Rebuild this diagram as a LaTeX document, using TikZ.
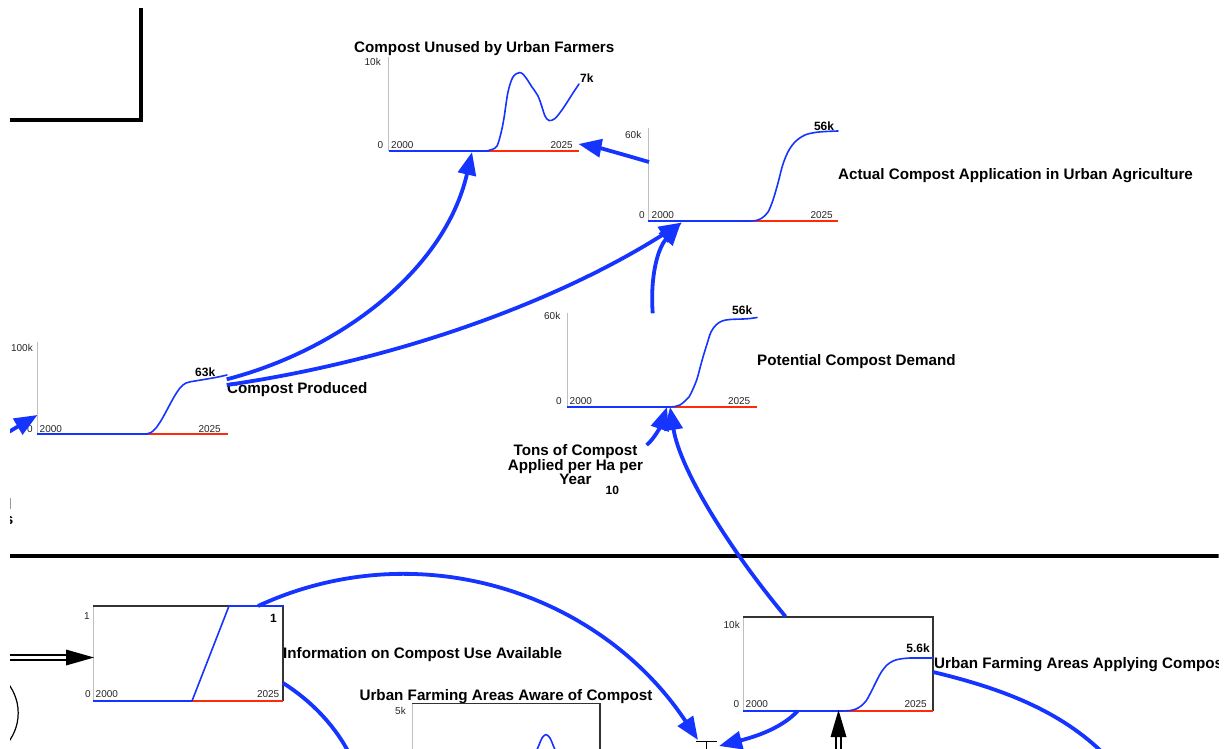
\documentclass[tikz,border=0pt]{standalone}
\usepackage{fontspec}
\setmainfont{Liberation Sans}
\usetikzlibrary{arrows.meta}
\definecolor{sblue}{RGB}{22,52,255}
\definecolor{sred}{RGB}{255,42,10}
\begin{document}
\begin{tikzpicture}[x=1pt,y=-1pt,
  ttl/.style={font=\bfseries\fontsize{15.2}{17}\selectfont, inner sep=0pt},
  axl/.style={font=\fontsize{10}{12}\selectfont, text=black!85, inner sep=0pt},
  val/.style={font=\bfseries\fontsize{12}{14}\selectfont, inner sep=0pt},
  yax/.style={draw=black!25, line width=1pt},
  bbase/.style={draw=sblue, line width=2.2pt},
  rbase/.style={draw=sred, line width=2.2pt},
  crv/.style={draw=sblue, line width=1.6pt, line join=round, line cap=round},
  conn/.style={draw=sblue, line width=3.8pt, -{Triangle[length=23pt,width=18pt]}},
  link/.style={draw=sblue, line width=3.8pt},
  frame/.style={draw=black!80, line width=1.1pt},
  wall/.style={draw=black, line width=3.5pt},
  pipe/.style={draw=black, line width=1.2pt, double=white, double distance=3.8pt},
]
\useasboundingbox (0,0) rectangle (1231,749);
\fill[white] (0,0) rectangle (1231,749);
\begin{scope}
\clip (10,8) rectangle (1218.5,749);

% walls
\draw[wall] (141,8) -- (141,120) -- (10,120);
\draw[wall] (10,556) -- (1219,556);

% ---------- Compost Unused by Urban Farmers
\draw[yax] (388.5,57) -- (388.5,151);
\draw[bbase] (388.5,151) -- (489,151);
\draw[rbase] (489,151) -- (579,151);
\draw[crv] plot[smooth, tension=0.55] coordinates {(486,151) (492,149.5) (497,146) (501,133) (504,118) (508,92) (513,77) (520,72.5) (525,76.5) (532,87) (538,96) (542,107) (545,116) (549,120.5) (555,118.5) (563,108.5) (573,93) (579,84)};
\node[ttl,anchor=base west] (cu-title) at (354,53) {Compost Unused by Urban Farmers};
\node[axl,anchor=base east] (cu-max) at (381,66) {10k};
\node[axl,anchor=base east] (cu-min) at (383.5,148.5) {0};
\node[axl,anchor=base west] (cu-t0) at (391,148.5) {2000};
\node[axl,anchor=base east] (cu-t1) at (573,148.5) {2025};
\node[val,anchor=base west] (cu-val) at (580,83) {7k};

% ---------- Actual Compost Application
\draw[yax] (648,128) -- (648,221);
\draw[bbase] (648,221) -- (750,221);
\draw[rbase] (750,221) -- (838,221);
\draw[crv] plot[smooth, tension=0.55] coordinates {(748,221) (756,220.5) (762,218) (768,212) (773,200) (778,183) (783,164) (789,150) (796,141) (805,135) (815,132.5) (826,131.5) (838,131)};
\node[axl,anchor=base east] (ac-max) at (641.5,138.5) {60k};
\node[axl,anchor=base east] (ac-min) at (645,218.5) {0};
\node[axl,anchor=base west] (ac-t0) at (651.5,218.5) {2000};
\node[axl,anchor=base east] (ac-t1) at (833,218.5) {2025};
\node[val,anchor=base] (ac-val) at (824,130.5) {56k};
\node[ttl,anchor=base west] (ac-title) at (838,179.5) {Actual Compost Application in Urban Agriculture};

% ---------- Compost Produced
\draw[yax] (37,342) -- (37,434);
\draw[bbase] (37,434) -- (148,434);
\draw[rbase] (148,434) -- (228,434);
\draw[crv] plot[smooth, tension=0.55] coordinates {(146,434) (151,432.5) (156,428) (162,419) (168,408) (174,397) (180,388) (186,383) (195,381) (207,379) (218,377) (227,375)};
\node[axl,anchor=base east] (cp-max) at (33,351.5) {100k};
\node[axl,anchor=base east] (cp-min) at (33,432.5) {0};
\node[axl,anchor=base west] (cp-t0) at (39.5,432.5) {2000};
\node[axl,anchor=base east] (cp-t1) at (221,432.5) {2025};
\node[val,anchor=base west] (cp-val) at (195,376.5) {63k};
\node[ttl,anchor=base west] (cp-title) at (227,393) {Compost Produced};

% ---------- Potential Compost Demand
\draw[yax] (567,313) -- (567,407);
\draw[bbase] (567,407) -- (669,407);
\draw[rbase] (669,407) -- (757,407);
\draw[crv] plot[smooth, tension=0.55] coordinates {(669,407) (675,406.5) (680,405) (685,401) (689,397) (693,389) (697,379) (700,368) (703,357) (707,344) (711,332) (716,325) (722,321) (730,319.5) (743,319) (750,318.5) (757,317.5)};
\node[axl,anchor=base east] (pd-max) at (560.5,319.5) {60k};
\node[axl,anchor=base east] (pd-min) at (562,404.5) {0};
\node[axl,anchor=base west] (pd-t0) at (569.5,404.5) {2000};
\node[axl,anchor=base east] (pd-t1) at (750.5,404.5) {2025};
\node[val,anchor=base west] (pd-val) at (732,314) {56k};
\node[ttl,anchor=base west] (pd-title) at (757,365.5) {Potential Compost Demand};

% ---------- Tons of Compost Applied per Ha per Year
\node[ttl,anchor=base] (tons1) at (575.5,455.5) {Tons of Compost};
\node[ttl,anchor=base] (tons2) at (575.5,470) {Applied per Ha per};
\node[ttl,anchor=base] (tons3) at (575.5,484.5) {Year};
\node[val,anchor=base west] (tons-val) at (605.5,494) {10};

% ---------- left edge fragments
\draw[draw=black!40, line width=1pt] (10.7,498) -- (10.7,509);
\node[ttl,anchor=base east] (cut-s) at (13.5,524) {s};
\draw[line width=1.2pt] (-29.8,713) circle[radius=48];

% ---------- Information on Compost Use Available
\draw[yax] (93,606) -- (93,701);
\draw[frame] (93,606) -- (283,606) -- (283,701);
\draw[bbase] (93,701) -- (192,701);
\draw[rbase] (192,701) -- (283,701);
\draw[crv] (192,701) -- (229,606) -- (283,606);
\node[axl,anchor=base east] (in-max) at (90,619.5) {1};
\node[axl,anchor=base east] (in-min) at (91,697.5) {0};
\node[axl,anchor=base west] (in-t0) at (95.5,697.5) {2000};
\node[axl,anchor=base east] (in-t1) at (279.5,697.5) {2025};
\node[val,anchor=base east] (in-val) at (277,622.5) {1};
\node[ttl,anchor=base west] (in-title) at (283,658.5) {Information on Compost Use Available};
\coordinate (flow-src) at (0,657.5);
\coordinate (flow-end) at (68,657.5);
\draw[pipe] (flow-src) -- (flow-end);
\fill[black] (66,649.5) -- (94,657.5) -- (66,665.5) -- cycle;

% ---------- Urban Farming Areas Aware of Compost
\node[ttl,anchor=base] (aw-title) at (506,700.5) {Urban Farming Areas Aware of Compost};
\draw[yax] (412,703.5) -- (412,760);
\draw[frame] (412,703.5) -- (600,703.5) -- (600,760);
\node[axl,anchor=base east] (aw-max) at (406,714.5) {5k};
\draw[crv] plot[smooth] coordinates {(536,752) (539,745) (542,738) (546,734.5) (550,738) (553,745) (556,752)};

% ---------- Urban Farming Areas Applying Compost
\draw[yax] (743,617) -- (743,711);
\draw[frame] (743,617) -- (933,617) -- (933,711);
\draw[bbase] (743,711) -- (842,711);
\draw[rbase] (842,711) -- (933,711);
\draw[crv] plot[smooth, tension=0.55] coordinates {(842,711) (850,710.5) (856,709) (861,706) (866,701) (870,694) (874,686) (878,678) (882,671) (887,665) (893,661) (900,659) (910,658) (920,658) (933,658)};
\node[axl,anchor=base east] (ap-max) at (740,628.5) {10k};
\node[axl,anchor=base east] (ap-min) at (739.5,707.5) {0};
\node[axl,anchor=base west] (ap-t0) at (745.5,707.5) {2000};
\node[axl,anchor=base east] (ap-t1) at (927,707.5) {2025};
\node[val,anchor=base east] (ap-val) at (930,652.5) {5.6k};
\node[ttl,anchor=base west] (ap-title) at (934,668.5) {Urban Farming Areas Applying Compos};
\coordinate (up-src) at (838.5,760);
\coordinate (up-end) at (838.5,735);
\draw[pipe] (up-src) -- (up-end);
\fill[black] (830.5,737) -- (838.5,710) -- (846.5,737) -- cycle;

% valve
\coordinate (valve) at (706.5,741.5);
\draw[line width=1.2pt] (696,741.5) -- (717,741.5);
\draw[line width=1.2pt] (valve) -- (706.5,752);

% ---------- connector end points
\coordinate (cp-out1) at (226.7,379.3);
\coordinate (cp-out2) at (226.7,385);
\coordinate (cp-in) at (37.5,415);
\coordinate (off3) at (-5,440);
\coordinate (cu-in) at (472,152);
\coordinate (cu-in2) at (578.5,144);
\coordinate (ac-in) at (682,222.5);
\coordinate (ac-in2) at (681,222.5);
\coordinate (ac-out) at (649,162);
\coordinate (ac-src) at (652.7,313.3);
\coordinate (pd-in) at (667,407);
\coordinate (pd-in2) at (670,407);
\coordinate (tons-out) at (646.7,445);
\coordinate (ap-top) at (785.5,616.5);
\coordinate (info-top) at (258,606);
\coordinate (valve-in) at (698,740);
\coordinate (ap-base) at (797.6,711);
\coordinate (valve-in2) at (719,746);
\coordinate (info-right) at (283,683);
\coordinate (off1) at (350,755);
\coordinate (ap-right) at (933,672);
\coordinate (off2) at (1105,755);

% ---------- connectors
\draw[conn] (cp-out1) .. controls (340,350) and (445,270) .. (cu-in);
\draw[conn] (cp-out2) .. controls (400,360) and (560,300) .. (ac-in);
\draw[conn] (ac-src) .. controls (650,275) and (658,248) .. (ac-in2);
\draw[conn] (ac-out) .. controls (625,155) and (600,148) .. (cu-in2);
\draw[conn] (tons-out) .. controls (655,438) and (661,425) .. (pd-in);
\draw[conn] (ap-top) .. controls (730,550) and (680,470) .. (pd-in2);
\draw[conn] (info-top) .. controls (418,532) and (600,592) .. (valve-in);
\draw[conn] (ap-base) .. controls (780,730) and (750,738) .. (valve-in2);
\draw[link] (info-right) .. controls (310,700) and (335,725) .. (off1);
\draw[link] (ap-right) .. controls (1000,688) and (1060,710) .. (off2);
\draw[conn] (off3) -- (cp-in);
\end{scope}
\end{tikzpicture}
\end{document}
